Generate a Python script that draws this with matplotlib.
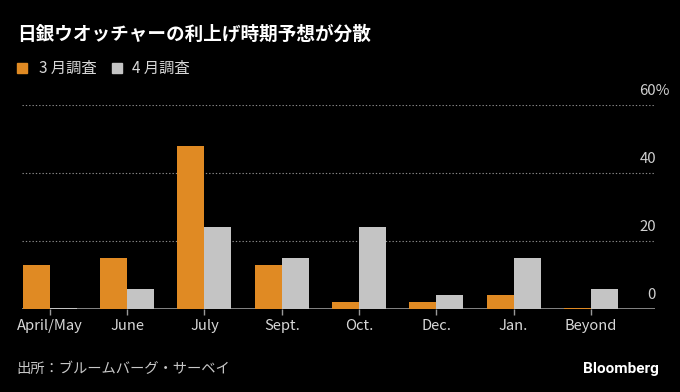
import matplotlib
matplotlib.use("Agg")
import matplotlib.pyplot as plt
import matplotlib.transforms as mtransforms
import numpy as np

plt.rcParams['font.family'] = ['Noto Sans CJK JP', 'DejaVu Sans']

# データ
categories = ["April/May", "June", "July", "Sept.", "Oct.", "Dec.", "Jan.", "Beyond"]
march = [13, 15, 48, 13, 2, 2, 4, 0.3]
april = [0.4, 6, 24, 15, 24, 4, 15, 6]
yticks = [0, 20, 40, 60]
ytick_labels = ["0", "20", "40", "60%"]

orange = "#E08A23"
gray = "#C4C4C4"
bg = "black"

fig = plt.figure(figsize=(6.8, 3.92), dpi=100, facecolor=bg)
ax = fig.add_axes([22 / 680, 1 - 309 / 392, (655 - 22) / 680, (309 - 105) / 392])
ax.set_facecolor(bg)

x = np.arange(len(categories))
w = 0.35
ax.bar(x - w / 2, march, w, color=orange, zorder=3)
ax.bar(x + w / 2, april, w, color=gray, zorder=3)

ax.set_ylim(0, 60)
ax.set_xlim(-0.36, 7.83)

# 目盛り線
for y in yticks[1:]:
    ax.axhline(y, color="#8a8a8a", lw=0.8, ls=(0, (1.2, 1.8)), zorder=1)
ax.axhline(0, color="#9a9a9a", lw=1.2, zorder=2)

tr = mtransforms.blended_transform_factory(fig.transFigure, ax.transData)
off = mtransforms.offset_copy(tr, fig=fig, x=0, y=5, units="points")
for y, lab in zip(yticks, ytick_labels):
    if lab.endswith("%"):
        # 最上段だけ%付き、数字の左端を揃える
        ax.text(639 / 680, y, lab, transform=off, ha="left", va="bottom",
                color="#d0d0d0", fontsize=10.8)
    else:
        ax.text(656 / 680, y, lab, transform=off, ha="right", va="bottom",
                color="#d0d0d0", fontsize=10.8)

for s in ax.spines.values():
    s.set_visible(False)
ax.set_yticks([])
ax.set_xticks(x)
ax.set_xticklabels(categories, color="#d8d8d8", fontsize=10.6)
ax.tick_params(axis="x", length=4, width=1, color="#9a9a9a", pad=3)

# タイトル・凡例
fig.text(17 / 680, 1 - 34 / 392, "日銀ウオッチャーの利上げ時期予想が分散",
         color="white", fontsize=13.4, fontweight="bold", va="center")
fig.patches.append(plt.Rectangle((17 / 680, 1 - 73 / 392), 10 / 680, 10 / 392,
                                 transform=fig.transFigure, color=orange))
fig.text(39 / 680, 1 - 68 / 392, "3 月調査", color="#d8d8d8", fontsize=11, va="center")
fig.patches.append(plt.Rectangle((112 / 680, 1 - 73 / 392), 10 / 680, 10 / 392,
                                 transform=fig.transFigure, color=gray))
fig.text(132 / 680, 1 - 68 / 392, "4 月調査", color="#d8d8d8", fontsize=11, va="center")

# 出所
fig.text(16 / 680, 1 - 369 / 392, "出所：ブルームバーグ・サーベイ",
         color="#c8c8c8", fontsize=10.3, va="center")
fig.text(659 / 680, 1 - 369 / 392, "Bloomberg", color="white", fontsize=11,
         fontweight="bold", ha="right", va="center", family=["Roboto", "DejaVu Sans"])

fig.savefig("out.png", dpi=100, facecolor=bg)
